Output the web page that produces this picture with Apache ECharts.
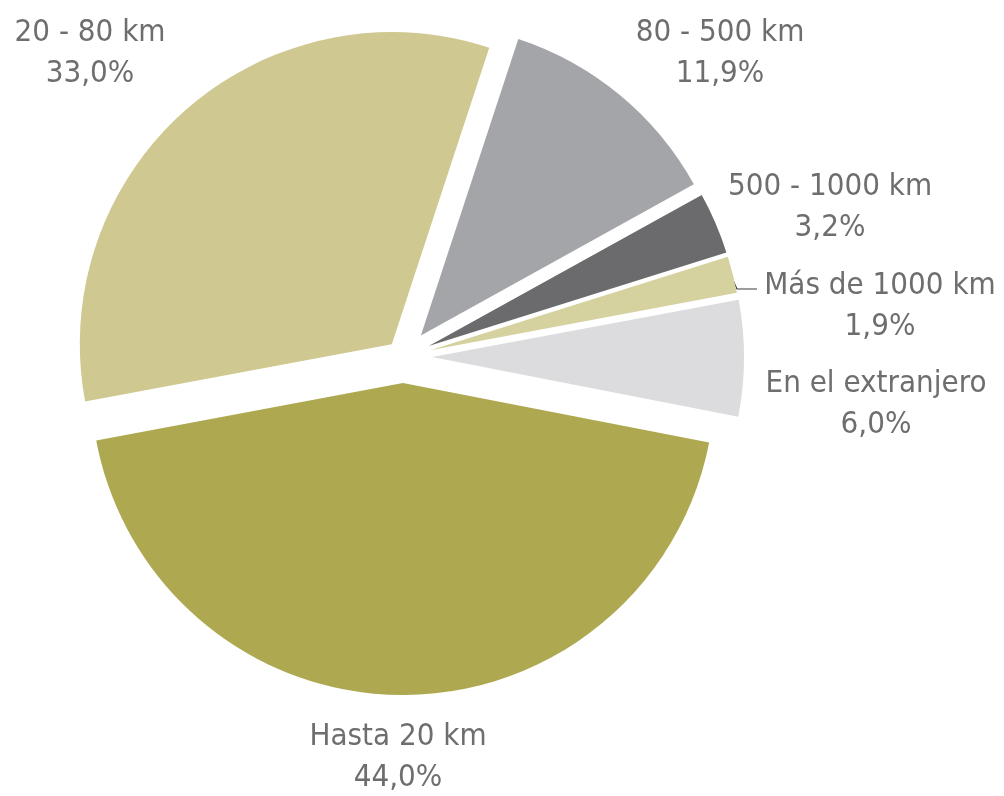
<!DOCTYPE html>
<html>
<head>
<meta charset="utf-8">
<script src="https://cdn.jsdelivr.net/npm/echarts@6/dist/echarts.min.js"></script>
<style>
html,body{margin:0;padding:0;background:#fff;}
#chart{width:1004px;height:796px;}
</style>
</head>
<body>
<div id="chart"></div>
<script>
const categories = ['Hasta 20 km', '20 - 80 km', '80 - 500 km', '500 - 1000 km', 'Más de 1000 km', 'En el extranjero'];
const values = [44.0, 33.0, 11.9, 3.2, 1.9, 6.0];

// styles / layout (not data)
const colors = ['#aea851', '#cfc890', '#a3a5a9', '#6b6b6d', '#d5d2a0', '#dcdcde'];
const explode = [26, 17, 28, 28, 28, 29];
const labelPos = [[398, 757], [90, 53], [720, 53], [830, 207], [880, 306], [876, 404]];
const leaderLines = {4: [[731, 276], [737, 289], [757, 289]]};
const CX = 403, CY = 357, R = 312, START = -11;

function fmt(v) { return v.toFixed(1).replace('.', ',') + '%'; }

const total = values.reduce((a, b) => a + b, 0);
let cum = 0;
const centers = values.map(v => {
  const mid = (START - 360 * (cum + v / 2) / total) * Math.PI / 180;
  cum += v;
  return mid;
}).map((mid, i) => [CX + explode[i] * Math.cos(mid), CY - explode[i] * Math.sin(mid)]);

const chart = echarts.init(document.getElementById('chart'), null, {renderer: 'canvas'});
const series = categories.map((_, i) => ({
  type: 'pie',
  center: centers[i],
  radius: R,
  startAngle: START,
  clockwise: true,
  animation: false,
  silent: true,
  avoidLabelOverlap: false,
  emphasis: {disabled: true},
  itemStyle: {borderWidth: 0},
  data: categories.map((name, j) => ({
    name: name,
    value: values[j],
    itemStyle: {color: j === i ? colors[j] : 'rgba(0,0,0,0)'},
    label: {show: j === i},
    labelLine: {show: j === i && leaderLines[j] != null}
  })),
  label: {
    position: 'outside',
    formatter: p => p.name + '\n' + fmt(p.value),
    color: '#6e6e71',
    fontSize: 31,
    lineHeight: 41,
    fontFamily: "'Liberation Sans Narrow', 'DejaVu Sans Condensed', 'Roboto', sans-serif",
    align: 'center'
  },
  labelLine: {length: 4, length2: 12, lineStyle: {color: '#3a3a3a', width: 1.2}},
  labelLayout: p => {
    const o = {x: labelPos[p.dataIndex][0], y: labelPos[p.dataIndex][1], align: 'center', verticalAlign: 'middle'};
    if (leaderLines[p.dataIndex]) o.labelLinePoints = leaderLines[p.dataIndex];
    return o;
  }
}));

chart.setOption({backgroundColor: '#fff', animation: false, series: series});
</script>
</body>
</html>
